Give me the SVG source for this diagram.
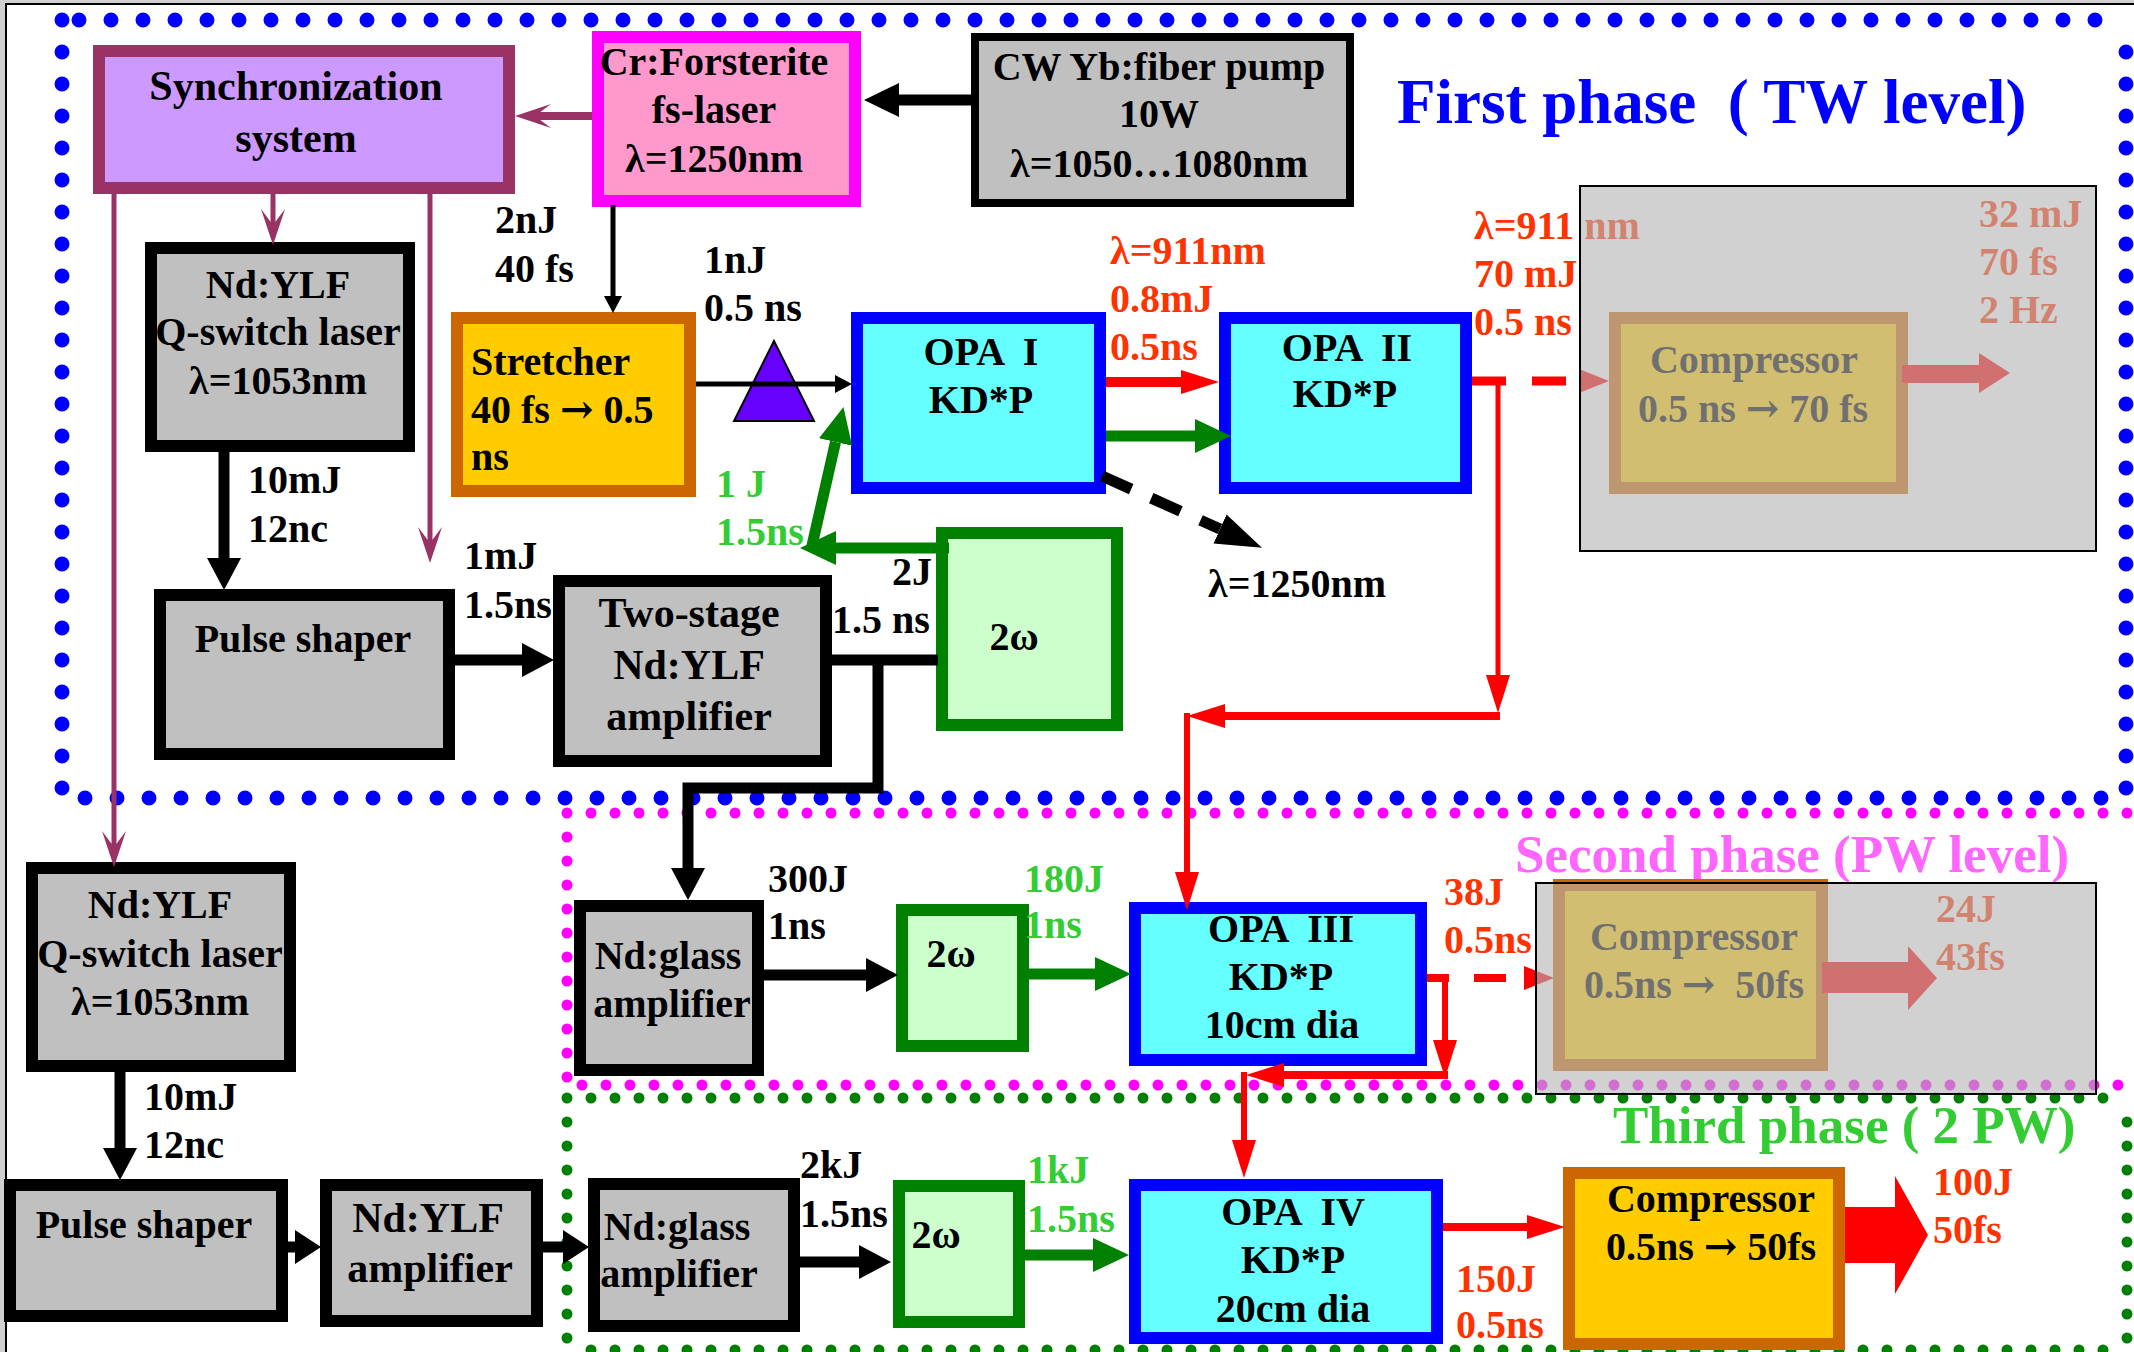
<svg xmlns="http://www.w3.org/2000/svg" width="2134" height="1352" viewBox="0 0 2134 1352">
<style>
text{font-family:"Liberation Serif","Times New Roman",serif;font-weight:bold;font-size:40px;fill:#000}
.a{font-family:"DejaVu Serif",serif}
.c{text-anchor:middle}
.r{fill:#FF3300}
.g{fill:#33CC33}
.gray{fill:#C0C0C0;stroke:#000;stroke-width:12}
.gray8{fill:#C0C0C0;stroke:#000;stroke-width:8}
.opa{fill:#66FFFF;stroke:#0000FF;stroke-width:12}
.shg{fill:#CCFFCC;stroke:#008000;stroke-width:12}
.cmp{fill:#FFCC00;stroke:#CC6600;stroke-width:12}
.dotB{fill:none;stroke:#0000FF;stroke-width:15;stroke-linecap:round;stroke-dasharray:0 32}
.dotM{fill:none;stroke:#FF00FF;stroke-width:11;stroke-linecap:round;stroke-dasharray:0 24}
.dotG{fill:none;stroke:#008000;stroke-width:11;stroke-linecap:round;stroke-dasharray:0 24}
.bk{fill:none;stroke:#000;stroke-width:11}
.bkt{fill:none;stroke:#000;stroke-width:5}
.gr{fill:none;stroke:#008000;stroke-width:11}
.rd{fill:none;stroke:#FF0000}
.mar{fill:none;stroke:#993366}
.ov{fill:#B4B4B4;fill-opacity:0.62;stroke:#000;stroke-width:2}
</style>
<defs>
<marker id="mBk" markerUnits="userSpaceOnUse" orient="auto" viewBox="0 0 32 34" markerWidth="32" markerHeight="34" refX="0" refY="17"><path d="M0,0 L32,17 L0,34 Z" fill="#000"/></marker>
<marker id="mBk35" markerUnits="userSpaceOnUse" orient="auto" viewBox="0 0 35 34" markerWidth="35" markerHeight="34" refX="0" refY="17"><path d="M0,0 L35,17 L0,34 Z" fill="#000"/></marker>
<marker id="mBkS" markerUnits="userSpaceOnUse" orient="auto" viewBox="0 0 26 34" markerWidth="26" markerHeight="34" refX="0" refY="17"><path d="M0,0 L26,17 L0,34 Z" fill="#000"/></marker>
<marker id="mBkT" markerUnits="userSpaceOnUse" orient="auto" viewBox="0 0 17 18" markerWidth="17" markerHeight="18" refX="0" refY="9"><path d="M0,0 L17,9 L0,18 Z" fill="#000"/></marker>
<marker id="mDash" markerUnits="userSpaceOnUse" orient="auto" viewBox="0 0 46 32" markerWidth="46" markerHeight="32" refX="0" refY="16"><path d="M0,0 L46,16 L0,32 Z" fill="#000"/></marker>
<marker id="mGr" markerUnits="userSpaceOnUse" orient="auto" viewBox="0 0 36 34" markerWidth="36" markerHeight="34" refX="0" refY="17"><path d="M0,0 L36,17 L0,34 Z" fill="#008000"/></marker>
<marker id="mRd" markerUnits="userSpaceOnUse" orient="auto" viewBox="0 0 38 24" markerWidth="38" markerHeight="24" refX="0" refY="12"><path d="M0,0 L38,12 L0,24 Z" fill="#FF0000"/></marker>
<marker id="mRd2" markerUnits="userSpaceOnUse" orient="auto" viewBox="0 0 30 24" markerWidth="30" markerHeight="24" refX="0" refY="12"><path d="M0,0 L30,12 L0,24 Z" fill="#FF0000"/></marker>
<marker id="mMar" markerUnits="userSpaceOnUse" orient="auto" viewBox="0 0 36 24" markerWidth="36" markerHeight="24" refX="16" refY="12"><path d="M0,0 L36,12 L0,24 L16,12 Z" fill="#993366"/></marker>
</defs>

<rect x="0" y="0" width="2134" height="1352" fill="#D0D0D0"/>
<rect x="6" y="4" width="2128" height="1348" fill="#FFFFFF"/>
<path d="M6,1352 V4 H2134" fill="none" stroke="#000" stroke-width="2"/>

<g id="phase-frames">
<path class="dotB" d="M79,20 H2127"/>
<path class="dotB" d="M62,20 V800"/>
<path class="dotB" d="M85,798 H2127"/>
<path class="dotB" d="M2126,52 V800"/>
<path class="dotM" d="M567,813 H2134"/>
<path class="dotM" d="M567,837 V1090"/>
<path class="dotM" d="M582,1085 H2134"/>
<path class="dotG" d="M567,1098 H2127"/>
<path class="dotG" d="M567,1122 V1352"/>
<path class="dotG" d="M2127,1122 V1352"/>
<path class="dotG" d="M591,1350 H2127"/>
</g>

<g id="labels-phase">
<text x="1397" y="123" style="font-size:63px;fill:#0000FF" xml:space="preserve">First phase  ( TW level)</text>
<text x="1515" y="872" style="font-size:53px;fill:#FF66FF">Second phase (PW level)</text>
<text x="1613" y="1143" style="font-size:53px;fill:#33CC33">Third phase ( 2 PW)</text>
</g>

<g id="sync">
<rect x="99" y="51" width="410" height="137" fill="#CC99FF" stroke="#993366" stroke-width="12"/>
<text class="c" x="296" y="100" style="font-size:42px">Synchronization</text>
<text class="c" x="296" y="152" style="font-size:42px">system</text>
</g>
<g id="cr-forsterite">
<rect x="598" y="37" width="257" height="164" fill="#FF99CC" stroke="#FF00FF" stroke-width="12"/>
<text class="c" x="714" y="75">Cr:Forsterite</text>
<text class="c" x="714" y="123">fs-laser</text>
<text class="c" x="714" y="172">λ=1250nm</text>
</g>
<g id="cw-pump">
<rect class="gray8" x="975" y="37" width="375" height="166"/>
<text class="c" x="1159" y="80">CW Yb:fiber pump</text>
<text class="c" x="1159" y="127">10W</text>
<text class="c" x="1159" y="177">λ=1050…1080nm</text>
</g>
<g id="ndylf-q1">
<rect class="gray" x="151" y="248" width="258" height="198"/>
<text class="c" x="278" y="298">Nd:YLF</text>
<text class="c" x="278" y="345">Q-switch laser</text>
<text class="c" x="278" y="394">λ=1053nm</text>
</g>
<g id="stretcher">
<rect class="cmp" x="457" y="318" width="233" height="173"/>
<text x="471" y="375">Stretcher</text>
<text x="471" y="423">40 fs <tspan class="a">→</tspan> 0.5</text>
<text x="471" y="470">ns</text>
</g>
<g id="prism">
<polygon points="774,341 734,421 814,421" fill="#6600FF" stroke="#000" stroke-width="2"/>
</g>
<g id="opa1">
<rect class="opa" x="857" y="318" width="243" height="170"/>
<text class="c" x="981" y="365" xml:space="preserve">OPA  I</text>
<text class="c" x="981" y="413">KD*P</text>
</g>
<g id="opa2">
<rect class="opa" x="1225" y="318" width="241" height="170"/>
<text class="c" x="1347" y="361" xml:space="preserve">OPA  II</text>
<text class="c" x="1345" y="407">KD*P</text>
</g>
<g id="pulse-shaper1">
<rect class="gray" x="160" y="595" width="289" height="159"/>
<text class="c" x="303" y="652">Pulse shaper</text>
</g>
<g id="two-stage">
<rect class="gray" x="559" y="581" width="267" height="180"/>
<text class="c" x="689" y="627" style="font-size:42px">Two-stage</text>
<text class="c" x="689" y="679" style="font-size:42px">Nd:YLF</text>
<text class="c" x="689" y="730" style="font-size:42px">amplifier</text>
</g>
<g id="shg1">
<rect class="shg" x="942" y="533" width="175" height="192"/>
<text class="c" x="1014" y="650">2ω</text>
</g>
<g id="ndylf-q2">
<rect class="gray" x="32" y="868" width="258" height="198"/>
<text class="c" x="160" y="918">Nd:YLF</text>
<text class="c" x="160" y="967">Q-switch laser</text>
<text class="c" x="160" y="1015">λ=1053nm</text>
</g>
<g id="pulse-shaper2">
<rect class="gray" x="10" y="1185" width="272" height="131"/>
<text class="c" x="144" y="1238">Pulse shaper</text>
</g>
<g id="ndylf-amp">
<rect class="gray" x="326" y="1185" width="211" height="136"/>
<text class="c" x="428" y="1232" style="font-size:42px">Nd:YLF</text>
<text class="c" x="430" y="1282" style="font-size:42px">amplifier</text>
</g>
<g id="ndglass2">
<rect class="gray" x="594" y="1184" width="200" height="142"/>
<text class="c" x="677" y="1240">Nd:glass</text>
<text class="c" x="679" y="1287">amplifier</text>
</g>
<g id="shg3">
<rect class="shg" x="899" y="1186" width="120" height="136"/>
<text class="c" x="936" y="1248">2ω</text>
</g>
<g id="opa4">
<rect class="opa" x="1135" y="1185" width="302" height="153"/>
<text class="c" x="1293" y="1225" xml:space="preserve">OPA  IV</text>
<text class="c" x="1293" y="1273">KD*P</text>
<text class="c" x="1293" y="1322">20cm dia</text>
</g>
<g id="compressor3">
<rect class="cmp" x="1569" y="1173" width="270" height="171"/>
<text class="c" x="1711" y="1212">Compressor</text>
<text class="c" x="1711" y="1260">0.5ns <tspan class="a">→</tspan> 50fs</text>
</g>
<g id="ndglass1">
<rect class="gray" x="580" y="906" width="178" height="164"/>
<text class="c" x="668" y="969">Nd:glass</text>
<text class="c" x="672" y="1017">amplifier</text>
</g>
<g id="shg2">
<rect class="shg" x="902" y="910" width="121" height="136"/>
<text class="c" x="951" y="967">2ω</text>
</g>
<g id="opa3">
<rect class="opa" x="1135" y="908" width="286" height="152"/>
<text class="c" x="1281" y="942" xml:space="preserve">OPA  III</text>
<text class="c" x="1281" y="990">KD*P</text>
<text class="c" x="1282" y="1038">10cm dia</text>
</g>
<g id="big-out-arrow">
<polygon points="1845,1207 1895,1207 1895,1176 1928,1235 1895,1294 1895,1263 1845,1263" fill="#FF0000"/>
</g>

<g id="connectors">
<path class="mar" stroke-width="8" d="M592,116 H535" marker-end="url(#mMar)"/>
<path class="mar" stroke-width="5" d="M273,194 V225" marker-end="url(#mMar)"/>
<path class="mar" stroke-width="5" d="M114,194 V847" marker-end="url(#mMar)"/>
<path class="mar" stroke-width="5" d="M430,194 V543" marker-end="url(#mMar)"/>
<path class="bk" stroke-width="13" d="M971,100 H899" marker-end="url(#mBk35)"/>
<path class="bkt" d="M613,205 V296" marker-end="url(#mBkT)"/>
<path class="bkt" d="M696,384 H835" marker-end="url(#mBkT)"/>
<path class="bk" d="M224,452 V558" marker-end="url(#mBk)"/>
<path class="bk" d="M455,660 H522" marker-end="url(#mBk)"/>
<path class="bk" d="M832,660 H938"/>
<path class="bk" d="M878,660 V788 H688 V868" marker-end="url(#mBk)"/>
<path class="bk" d="M764,975 H866" marker-end="url(#mBk)"/>
<path class="bk" d="M120,1072 V1148" marker-end="url(#mBk)"/>
<path class="bk" d="M288,1247 H295" marker-end="url(#mBkS)"/>
<path class="bk" d="M543,1247 H563" marker-end="url(#mBkS)"/>
<path class="bk" d="M800,1262 H859" marker-end="url(#mBk)"/>
<path fill="none" stroke="#000" stroke-width="11" stroke-dasharray="32 22" d="M1102,476 L1220,529" marker-end="url(#mDash)"/>
<path class="gr" d="M949,548 H836" marker-end="url(#mGr)"/>
<path class="gr" d="M811,550 L835.5,442" marker-end="url(#mGr)"/>
<path class="gr" d="M1106,436 H1195" marker-end="url(#mGr)"/>
<path class="gr" d="M1029,974 H1095" marker-end="url(#mGr)"/>
<path class="gr" d="M1025,1255 H1093" marker-end="url(#mGr)"/>
<path class="rd" stroke-width="10" d="M1106,382 H1181" marker-end="url(#mRd)"/>
<path class="rd" stroke-width="9" d="M1472,381 H1506"/>
<path class="rd" stroke-width="9" stroke-dasharray="34 20" d="M1532,381 H1579" marker-end="url(#mRd2)"/>
<path class="rd" stroke-width="5" d="M1498,378 V675" marker-end="url(#mRd)"/>
<path class="rd" stroke-width="8" d="M1500,716 H1225" marker-end="url(#mRd)"/>
<path class="rd" stroke-width="6" d="M1187,713 V872" marker-end="url(#mRd)"/>
<path class="rd" stroke-width="8" d="M1427,978 H1449"/>
<path class="rd" stroke-width="6" d="M1445,975 V1040" marker-end="url(#mRd)"/>
<path class="rd" stroke-width="8" stroke-dasharray="32 30" d="M1474,978 H1524" marker-end="url(#mRd2)"/>
<path class="rd" stroke-width="8" d="M1448,1075 H1284" marker-end="url(#mRd)"/>
<path class="rd" stroke-width="6" d="M1244,1072 V1140" marker-end="url(#mRd)"/>
<path class="rd" stroke-width="8" d="M1443,1227 H1527" marker-end="url(#mRd)"/>
</g>

<g id="labels">
<text x="495" y="233">2nJ</text>
<text x="495" y="282">40 fs</text>
<text x="704" y="273">1nJ</text>
<text x="704" y="321">0.5 ns</text>
<text x="248" y="493">10mJ</text>
<text x="248" y="542">12nc</text>
<text x="464" y="569">1mJ</text>
<text x="464" y="618">1.5ns</text>
<text class="g" x="716" y="497">1 J</text>
<text class="g" x="716" y="545">1.5ns</text>
<text x="892" y="585">2J</text>
<text x="832" y="633">1.5 ns</text>
<text class="r" x="1110" y="264">λ=911nm</text>
<text class="r" x="1110" y="312">0.8mJ</text>
<text class="r" x="1110" y="360">0.5ns</text>
<text x="1208" y="597">λ=1250nm</text>
<text class="r" x="1474" y="239">λ=911 nm</text>
<text class="r" x="1474" y="287">70 mJ</text>
<text class="r" x="1474" y="335">0.5 ns</text>
<text x="768" y="892">300J</text>
<text x="768" y="939">1ns</text>
<text class="g" x="1024" y="892">180J</text>
<text class="g" x="1024" y="938">1ns</text>
<text class="r" x="1444" y="905">38J</text>
<text class="r" x="1444" y="953">0.5ns</text>
<text x="144" y="1110">10mJ</text>
<text x="144" y="1158">12nc</text>
<text x="800" y="1178">2kJ</text>
<text x="800" y="1227">1.5ns</text>
<text class="g" x="1027" y="1183">1kJ</text>
<text class="g" x="1027" y="1232">1.5ns</text>
<text class="r" x="1456" y="1292">150J</text>
<text class="r" x="1456" y="1338">0.5ns</text>
<text class="r" x="1933" y="1195">100J</text>
<text class="r" x="1933" y="1243">50fs</text>
</g>

<g id="compressor1-overlay">
<rect class="cmp" x="1615" y="318" width="287" height="170"/>
<text class="c" x="1754" y="373">Compressor</text>
<text class="c" x="1753" y="422">0.5 ns <tspan class="a">→</tspan> 70 fs</text>
<polygon points="1902,365 1979,365 1979,353 2010,373 1979,393 1979,383 1902,383" fill="#FF0000"/>
<text class="r" x="1979" y="227">32 mJ</text>
<text class="r" x="1979" y="275">70 fs</text>
<text class="r" x="1979" y="323">2 Hz</text>
<rect class="ov" x="1580" y="186" width="516" height="365"/>
</g>
<g id="compressor2-overlay">
<rect class="cmp" x="1559" y="885" width="263" height="180"/>
<text class="c" x="1694" y="950">Compressor</text>
<text class="c" x="1694" y="998" xml:space="preserve">0.5ns <tspan class="a">→</tspan>  50fs</text>
<polygon points="1822,962 1908,962 1908,946 1937,978 1908,1010 1908,993 1822,993" fill="#FF0000"/>
<text class="r" x="1936" y="922">24J</text>
<text class="r" x="1936" y="970">43fs</text>
<rect class="ov" x="1536" y="883" width="560" height="211"/>
</g>
</svg>
